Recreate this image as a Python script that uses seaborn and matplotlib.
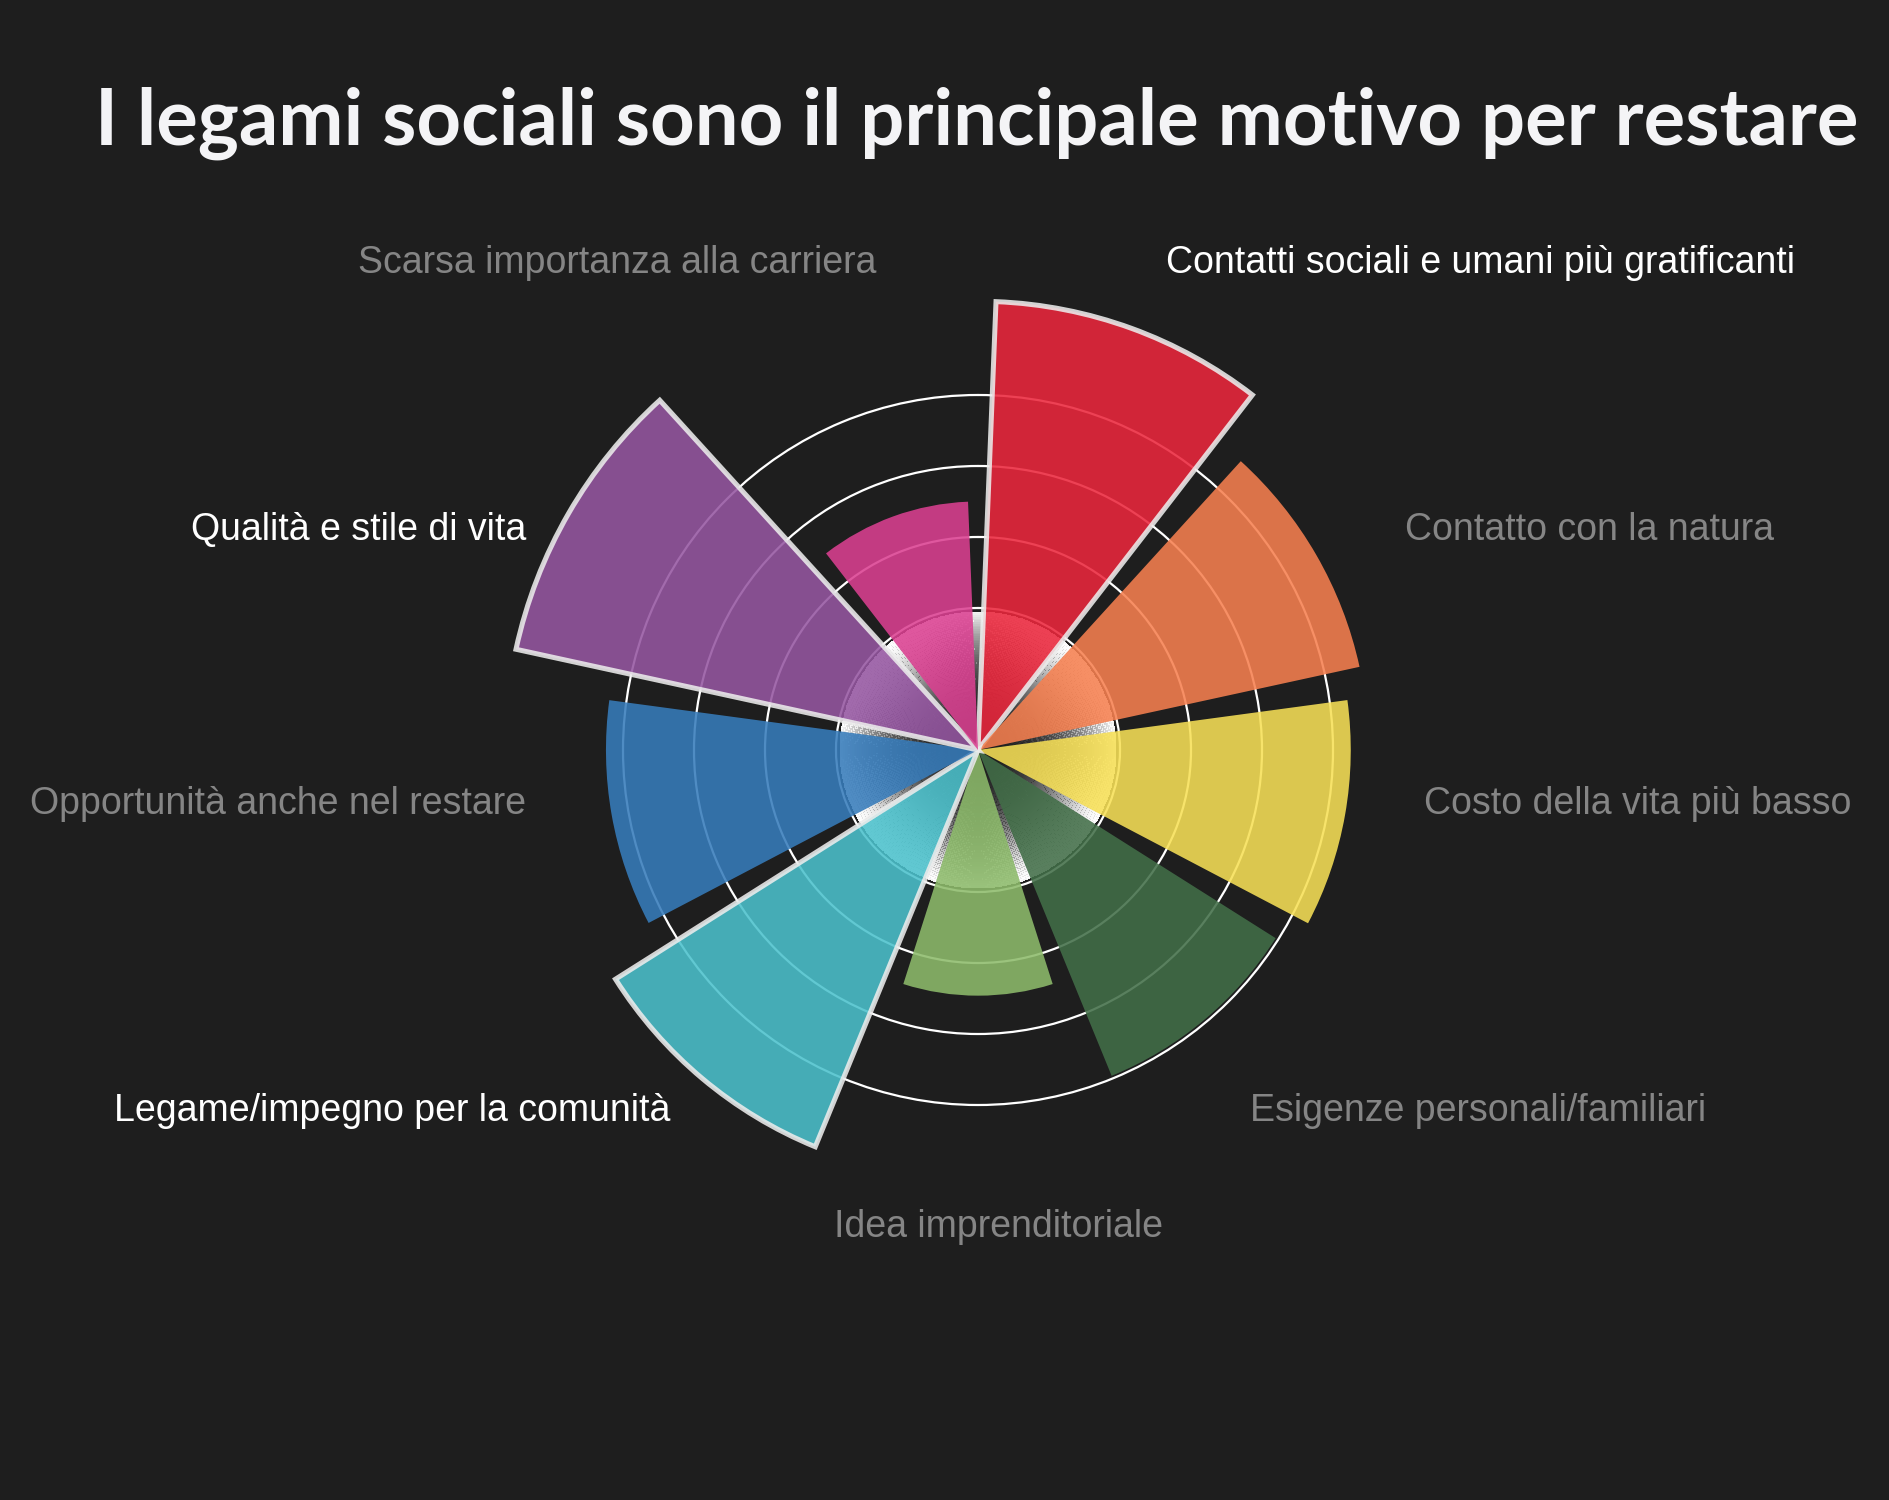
import numpy as np
import matplotlib
matplotlib.use("Agg")
import matplotlib.pyplot as plt
from matplotlib.colors import LinearSegmentedColormap, to_rgb
import seaborn as sns

# ---------------- data ----------------
categories = [
    "Contatti sociali e umani più gratificanti",
    "Contatto con la natura",
    "Costo della vita più basso",
    "Esigenze personali/familiari",
    "Idea imprenditoriale",
    "Legame/impegno per la comunità",
    "Opportunità anche nel restare",
    "Qualità e stile di vita",
    "Scarsa importanza alla carriera",
]
values = [63.2, 55.0, 52.5, 49.6, 34.6, 60.4, 52.4, 66.6, 35.0]
highlighted = [True, False, False, False, False, True, False, True, False]
grid_values = [20, 30, 40, 50]
title = "I legami sociali sono il principale motivo per restare"

# ---------------- style ----------------
BG = "#1e1e1e"
bar_display_colors = ["#d22538", "#dc744a", "#ddc94f", "#3e6443", "#80a862",
                      "#46adb7", "#3471a8", "#874f91", "#c43c83"]
BAR_ALPHA = 0.88

sns.set_theme(style="dark")
plt.rcParams["font.family"] = ["Liberation Sans", "DejaVu Sans"]

palette = sns.color_palette(bar_display_colors)
bg_rgb = np.array(to_rgb(BG))
raw_colors = [np.clip((np.array(c) - (1 - BAR_ALPHA) * bg_rgb) / BAR_ALPHA, 0, 1)
              for c in palette]

W, H = 1890, 1500
fig = plt.figure(figsize=(W / 100, H / 100), dpi=100, facecolor=BG)

# polar axes centred at (978, 750) px, 7.1 px per unit
cx, cy = 978, 750
rmax = 70
scale = 7.1
R = rmax * scale
ax = fig.add_axes([(cx - R) / W, (H - cy - R) / H, 2 * R / W, 2 * R / H],
                  projection="polar")
ax.set_facecolor("none")
ax.set_theta_zero_location("N")
ax.set_theta_direction(-1)
ax.set_ylim(0, rmax)

n = len(categories)
sector = 2 * np.pi / n
theta = (np.arange(n) + 0.5) * sector

# grid
ax.set_axisbelow(True)
ax.set_yticks(grid_values)
ax.set_yticklabels([])
ax.set_xticks([])
ax.yaxis.grid(True, color="white", linewidth=1.6)
ax.xaxis.grid(False)
ax.spines["polar"].set_visible(False)

# inner glow
R_glow = 19.5
tg = np.linspace(0, 2 * np.pi, 361)
rg = np.linspace(0, R_glow, 80)
T, Rr = np.meshgrid(tg, rg)
C = ((Rr[:-1, :-1] + R_glow / 160) / R_glow) ** 2.6
glow_cmap = LinearSegmentedColormap.from_list(
    "glow", [(1, 1, 1, 0.0), (1, 1, 1, 0.97)])
ax.pcolormesh(T, Rr, C, cmap=glow_cmap, vmin=0, vmax=1, shading="flat",
              antialiased=False, zorder=1, linewidth=0)

# bars
for th, v, col, hl in zip(theta, values, raw_colors, highlighted):
    ax.bar(th, v, width=sector * 0.885, bottom=0, color=col, alpha=BAR_ALPHA,
           edgecolor="#ececec" if hl else "none",
           linewidth=3.6 if hl else 0, zorder=3, joinstyle="miter")

ax.set_ylim(0, rmax)

# title
fig.text(977 / W, 1 - 145 / H, title, ha="center", va="baseline",
         fontsize=56, fontweight="bold", color="#f4f4f6", family=["Lato", "DejaVu Sans"])

# category labels (layout positions in px)
label_layout = [
    (1166, 273, "left"),
    (1405, 540, "left"),
    (1424, 814, "left"),
    (1250, 1121, "left"),
    (999, 1237, "center"),
    (670, 1121, "right"),
    (526, 814, "right"),
    (526, 540, "right"),
    (876, 273, "right"),
]
for cat, hl, (x, y, ha) in zip(categories, highlighted, label_layout):
    fig.text(x / W, 1 - y / H, cat, ha=ha, va="baseline", fontsize=27,
             color="#ffffff" if hl else "#858585")

fig.savefig("out.png", dpi=100, facecolor=BG)
